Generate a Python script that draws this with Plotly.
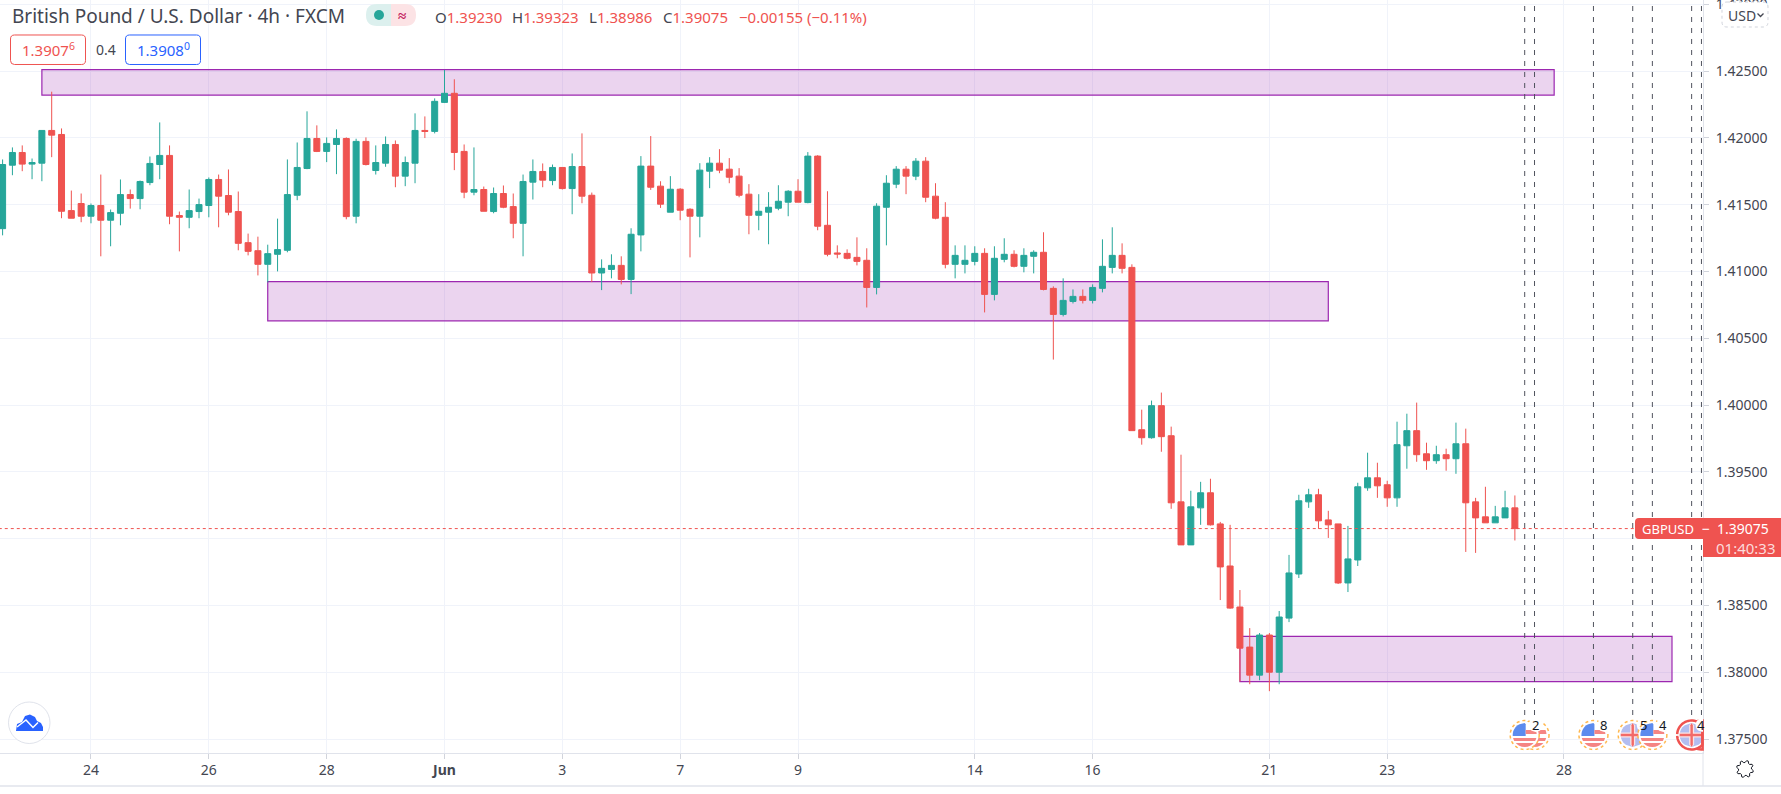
import numpy as np
import plotly.graph_objects as go

W, H = 1781, 794
PLOT_R, PLOT_B = 1703, 752.5
RED, GREEN, BLUE, PURPLE = "#ef5350", "#26a69a", "#2962ff", "#9c27b0"
GRID = "#f0f3fa"
TEXT = "#434651"
FONT = "Noto Sans"

# 4h bars
opens = [1.41320, 1.41795, 1.41890, 1.41803, 1.41810, 1.42055, 1.42025, 1.41455, 1.41508, 1.41413,
         1.41493, 1.41383, 1.41435, 1.41575, 1.41545, 1.41665, 1.41800, 1.41868, 1.41418, 1.41405,
         1.41448, 1.41493, 1.41688, 1.41568, 1.41448, 1.41215, 1.41155, 1.41053, 1.41128, 1.41158,
         1.41570, 1.41770, 1.41995, 1.41898, 1.41950, 1.41995, 1.41413, 1.41973, 1.41755, 1.41810,
         1.41950, 1.41713, 1.41810, 1.42055, 1.42048, 1.42265, 1.42333, 1.41898, 1.41593, 1.41613,
         1.41448, 1.41583, 1.41485, 1.41360, 1.41668, 1.41748, 1.41680, 1.41778, 1.41620, 1.41785,
         1.41570, 1.40988, 1.41015, 1.41045, 1.40940, 1.41273, 1.41788, 1.41638, 1.41443, 1.41615,
         1.41465, 1.41413, 1.41750, 1.41810, 1.41765, 1.41713, 1.41578, 1.41420, 1.41443, 1.41473,
         1.41518, 1.41600, 1.41515, 1.41863, 1.41345, 1.41138, 1.41135, 1.41105, 1.41083, 1.40880,
         1.41480, 1.41653, 1.41765, 1.41713, 1.41825, 1.41563, 1.41405, 1.41053, 1.41053, 1.41075,
         1.41135, 1.40828, 1.41090, 1.41128, 1.41038, 1.41113, 1.41143, 1.40873, 1.40678, 1.40775,
         1.40813, 1.40783, 1.40873, 1.41030, 1.41120, 1.41030, 1.39815, 1.39755, 1.39995, 1.39770,
         1.39275, 1.38953, 1.39230, 1.39343, 1.39110, 1.38795, 1.38488, 1.38188, 1.37978, 1.38278,
         1.38000, 1.38405, 1.38735, 1.39275, 1.39328, 1.39140, 1.39110, 1.38668, 1.38840, 1.39380,
         1.39455, 1.39403, 1.39305, 1.39695, 1.39808, 1.39635, 1.39583, 1.39628, 1.39598, 1.39710,
         1.39275, 1.39163, 1.39118, 1.39155, 1.39230]
highs = [1.41838, 1.41928, 1.41943, 1.41845, 1.42055, 1.42345, 1.42070, 1.41605, 1.41583, 1.41508,
         1.41725, 1.41463, 1.41688, 1.41613, 1.41680, 1.41860, 1.42115, 1.41943, 1.41448, 1.41613,
         1.41545, 1.41703, 1.41725, 1.41763, 1.41598, 1.41283, 1.41260, 1.41200, 1.41395, 1.41838,
         1.41965, 1.42198, 1.42093, 1.42003, 1.42063, 1.42003, 1.41993, 1.42003, 1.41943, 1.42010,
         1.41980, 1.41860, 1.42183, 1.42160, 1.42295, 1.42508, 1.42438, 1.41950, 1.41928, 1.41635,
         1.41628, 1.41643, 1.41583, 1.41725, 1.41838, 1.41808, 1.41800, 1.41780, 1.41883, 1.42033,
         1.41590, 1.41090, 1.41128, 1.41113, 1.41323, 1.41863, 1.42013, 1.41675, 1.41713, 1.41623,
         1.41473, 1.41810, 1.41855, 1.41915, 1.41848, 1.41773, 1.41653, 1.41578, 1.41593, 1.41645,
         1.41608, 1.41690, 1.41893, 1.41870, 1.41600, 1.41195, 1.41165, 1.41255, 1.41173, 1.41510,
         1.41720, 1.41788, 1.41788, 1.41848, 1.41855, 1.41660, 1.41518, 1.41195, 1.41195, 1.41188,
         1.41173, 1.41188, 1.41248, 1.41158, 1.41173, 1.41158, 1.41293, 1.40888, 1.40948, 1.40865,
         1.40865, 1.40903, 1.41240, 1.41330, 1.41210, 1.41053, 1.39965, 1.40033, 1.40093, 1.39838,
         1.39628, 1.39358, 1.39425, 1.39448, 1.39125, 1.39103, 1.38615, 1.38330, 1.38293, 1.38293,
         1.38458, 1.38878, 1.39328, 1.39373, 1.39373, 1.39208, 1.39110, 1.39095, 1.39418, 1.39643,
         1.39568, 1.39433, 1.39875, 1.39935, 1.40018, 1.39718, 1.39695, 1.39673, 1.39868, 1.39823,
         1.39305, 1.39388, 1.39245, 1.39358, 1.39323]
lows = [1.41270, 1.41720, 1.41750, 1.41690, 1.41675, 1.41855, 1.41398, 1.41398, 1.41368, 1.41360,
        1.41113, 1.41188, 1.41345, 1.41470, 1.41465, 1.41645, 1.41690, 1.41353, 1.41150, 1.41323,
        1.41398, 1.41405, 1.41330, 1.41420, 1.41158, 1.41120, 1.40970, 1.40918, 1.41000, 1.41143,
        1.41533, 1.41765, 1.41893, 1.41818, 1.41728, 1.41390, 1.41360, 1.41793, 1.41725, 1.41783,
        1.41630, 1.41638, 1.41660, 1.41998, 1.42033, 1.42260, 1.41758, 1.41548, 1.41570, 1.41450,
        1.41435, 1.41473, 1.41248, 1.41113, 1.41538, 1.41630, 1.41645, 1.41613, 1.41428, 1.41510,
        1.40920, 1.40860, 1.40948, 1.40903, 1.40830, 1.41150, 1.41610, 1.41475, 1.41443, 1.41383,
        1.41105, 1.41255, 1.41623, 1.41735, 1.41660, 1.41555, 1.41278, 1.41308, 1.41203, 1.41458,
        1.41413, 1.41518, 1.41510, 1.41308, 1.41113, 1.41098, 1.41090, 1.41045, 1.40730, 1.40828,
        1.41195, 1.41623, 1.41578, 1.41683, 1.41518, 1.41390, 1.41023, 1.40948, 1.40985, 1.41045,
        1.40693, 1.40783, 1.41068, 1.41030, 1.40993, 1.40985, 1.40858, 1.40340, 1.40663, 1.40760,
        1.40760, 1.40760, 1.40843, 1.40985, 1.40985, 1.39808, 1.39703, 1.39748, 1.39650, 1.39223,
        1.38953, 1.38953, 1.39103, 1.39098, 1.38540, 1.38475, 1.37930, 1.37910, 1.37940, 1.37858,
        1.37910, 1.38375, 1.38705, 1.39230, 1.39073, 1.39005, 1.38660, 1.38600, 1.38795, 1.39358,
        1.39305, 1.39238, 1.39238, 1.39523, 1.39575, 1.39515, 1.39560, 1.39508, 1.39485, 1.38900,
        1.38893, 1.39118, 1.39118, 1.39155, 1.38986]
closes = [1.41800, 1.41890, 1.41803, 1.41815, 1.42055, 1.42020, 1.41450, 1.41398, 1.41413, 1.41493,
          1.41383, 1.41440, 1.41575, 1.41545, 1.41673, 1.41808, 1.41868, 1.41413, 1.41405, 1.41455,
          1.41500, 1.41688, 1.41563, 1.41443, 1.41210, 1.41150, 1.41053, 1.41133, 1.41163, 1.41575,
          1.41778, 1.41995, 1.41898, 1.41958, 1.41995, 1.41410, 1.41973, 1.41800, 1.41815, 1.41950,
          1.41713, 1.41815, 1.42055, 1.42048, 1.42273, 1.42333, 1.41890, 1.41593, 1.41613, 1.41450,
          1.41583, 1.41480, 1.41360, 1.41673, 1.41748, 1.41683, 1.41778, 1.41620, 1.41785, 1.41563,
          1.40988, 1.41023, 1.41045, 1.40940, 1.41278, 1.41788, 1.41630, 1.41503, 1.41615, 1.41458,
          1.41413, 1.41758, 1.41810, 1.41758, 1.41705, 1.41570, 1.41420, 1.41450, 1.41480, 1.41525,
          1.41600, 1.41518, 1.41863, 1.41338, 1.41128, 1.41130, 1.41098, 1.41075, 1.40880, 1.41488,
          1.41660, 1.41765, 1.41713, 1.41825, 1.41555, 1.41398, 1.41053, 1.41120, 1.41083, 1.41135,
          1.40828, 1.41098, 1.41128, 1.41038, 1.41120, 1.41143, 1.40865, 1.40678, 1.40783, 1.40813,
          1.40783, 1.40880, 1.41038, 1.41120, 1.41023, 1.39808, 1.39755, 1.39995, 1.39763, 1.39268,
          1.38953, 1.39238, 1.39343, 1.39103, 1.38788, 1.38480, 1.38180, 1.37978, 1.38278, 1.38000,
          1.38413, 1.38743, 1.39283, 1.39328, 1.39133, 1.39103, 1.38668, 1.38848, 1.39388, 1.39455,
          1.39395, 1.39305, 1.39703, 1.39808, 1.39628, 1.39583, 1.39628, 1.39598, 1.39710, 1.39268,
          1.39155, 1.39118, 1.39163, 1.39230, 1.39075]
bars = list(range(len(opens)))

date_bars = [9, 21, 33, 45, 57, 69, 81, 99, 111, 129, 141, 159]
date_labels = ["24", "26", "28", "<b>Jun</b>", "3", "7", "9", "14", "16", "21", "23", "28"]
price_ticks = [1.375, 1.38, 1.385, 1.39, 1.395, 1.40, 1.405, 1.41, 1.415, 1.42, 1.425, 1.43]
# 1.39000 sits under the last price tag, so it has no label of its own
price_labels = ["1.37500", "1.38000", "1.38500", "", "1.39500", "1.40000", "1.40500", "1.41000",
                "1.41500", "1.42000", "1.42500", "1.43000"]

# zones drawn on the chart: bar from, bar to, price top, price bottom
zone_from = [4, 27, 126]
zone_to = [158, 135, 170]
zone_top = [1.42510, 1.40923, 1.38268]
zone_bottom = [1.42320, 1.40630, 1.37930]

event_bars = [155, 156, 162, 166, 168, 172, 173]
last_price = 1.39075

BAR_X0, BAR_STEP = 2.6, 9.82


def bar_px(i):
    return BAR_X0 + BAR_STEP * i


def px(x):
    return x / W


def py(y):
    return 1 - y / H


def poly_path(pts, close=True):
    s = "M" + " L".join(f"{px(x):.5f},{py(y):.5f}" for x, y in pts)
    return s + (" Z" if close else "")


def round_rect(x0, y0, x1, y1, r, left=True, right=True):
    rl = r if left else 0
    rr = r if right else 0
    return (f"M{px(x0+rl):.5f},{py(y0):.5f} L{px(x1-rr):.5f},{py(y0):.5f} "
            f"Q{px(x1):.5f},{py(y0):.5f} {px(x1):.5f},{py(y0+rr):.5f} "
            f"L{px(x1):.5f},{py(y1-rr):.5f} Q{px(x1):.5f},{py(y1):.5f} {px(x1-rr):.5f},{py(y1):.5f} "
            f"L{px(x0+rl):.5f},{py(y1):.5f} Q{px(x0):.5f},{py(y1):.5f} {px(x0):.5f},{py(y1-rl):.5f} "
            f"L{px(x0):.5f},{py(y0+rl):.5f} Q{px(x0):.5f},{py(y0):.5f} {px(x0+rl):.5f},{py(y0):.5f} Z")


def deco(path, fill="rgba(0,0,0,0)", line=None, width=1, dash="solid"):
    return dict(type="path", xref="paper", yref="paper", path=path, fillcolor=fill, layer="above",
                line=dict(color=line or "rgba(0,0,0,0)", width=width if line else 0, dash=dash))


def band(cx, cy, r, y0, y1, xmin=-1e4, xmax=1e4):
    """disc clipped to a box, and to the right edge of the plot"""
    ys = np.linspace(max(y0, cy - r), min(y1, cy + r), 12)
    half = np.sqrt(np.maximum(r ** 2 - (ys - cy) ** 2, 0))
    right = np.minimum(np.minimum(cx + half, xmax), PLOT_R)
    left = np.minimum(np.maximum(cx - half, xmin), PLOT_R)
    pts = list(zip(right, ys)) + list(zip(left[::-1], ys[::-1]))
    return poly_path(pts)


def arc(cx, cy, r):
    a = np.linspace(0, 2 * np.pi, 60)
    pts = [(cx + r * np.cos(t), cy + r * np.sin(t)) for t in a if cx + r * np.cos(t) < PLOT_R]
    if cx + r >= PLOT_R:
        # start the open arc from the clipped side
        pts = [p for p in pts if p[1] >= cy][::-1] + [p for p in pts if p[1] < cy][::-1]
    return poly_path(pts, close=False)


def flag_icon(cx, kind, number=None, ring="#ffb74d", ring_w=1.5, ring_dash="dot"):
    cy = 735
    out = [deco(band(cx, cy, 14, cy - 14, cy + 14), fill="white")]
    if kind == "us":
        out.append(deco(band(cx, cy, 12, cy - 12, cy + 1, xmax=cx + 1), fill="#5c8bee"))
        out.append(deco(band(cx, cy, 12, cy - 5, cy - 1, xmin=cx + 1), fill="#f58583"))
        out.append(deco(band(cx, cy, 12, cy + 3, cy + 6), fill="#f58583"))
        out.append(deco(band(cx, cy, 12, cy + 8, cy + 12), fill="#f58583"))
    else:
        out.append(deco(band(cx, cy, 12, cy - 12, cy + 12), fill="#b3bdf0"))
        out.append(deco(band(cx, cy, 12, cy - 2.5, cy + 2.5), fill="#fde3e3"))
        out.append(deco(band(cx, cy, 12, cy - 12, cy + 12, xmin=cx - 2.5, xmax=cx + 2.5), fill="#fde3e3"))
        out.append(deco(band(cx, cy, 12, cy - 1.2, cy + 1.2), fill="#f26a68"))
        out.append(deco(band(cx, cy, 12, cy - 12, cy + 12, xmin=cx - 1.2, xmax=cx + 1.2), fill="#f26a68"))
    out.append(deco(arc(cx, cy, 14.5), line=ring, width=ring_w, dash=ring_dash))
    if number:
        nx = cx + 11
        out.append(deco(band(nx, cy - 10, 7, cy - 17, cy - 3), fill="white"))
    return out


def note(x, y, text, size=14, color=TEXT, anchor="left"):
    # annotations pad their text by 2px
    if anchor == "left":
        x -= 2
    return dict(xref="paper", yref="paper", x=px(x), y=py(y), text=text, showarrow=False,
                xanchor=anchor, yanchor="middle", font=dict(family=FONT, size=size, color=color))


fig = go.Figure(go.Candlestick(
    x=bars, open=opens, high=highs, low=lows, close=closes,
    whiskerwidth=0,
    increasing=dict(line=dict(color=GREEN, width=1), fillcolor=GREEN),
    decreasing=dict(line=dict(color=RED, width=1), fillcolor=RED),
    showlegend=False, hoverinfo="skip",
))

shapes = []
for a, b, top, bot in zip(zone_from, zone_to, zone_top, zone_bottom):
    shapes.append(dict(type="rect", xref="x", yref="y", x0=a, x1=b, y0=bot, y1=top, layer="between",
                       fillcolor="rgba(156,39,176,0.2)", line=dict(color=PURPLE, width=1.2)))

# current price line
shapes.append(dict(type="line", xref="x", yref="y", x0=-1, x1=173.15, y0=last_price, y1=last_price,
                   layer="above", line=dict(color=RED, width=1, dash="dot")))

# event markers
for b in event_bars:
    shapes.append(dict(type="line", xref="x", yref="paper", x0=b, x1=b, y0=py(715), y1=py(2), layer="above",
                       line=dict(color="#50535e", width=1, dash="5px,6px")))

annotations = []
icons = [(156, "us", None), (155, "us", "2"), (162, "us", "8"), (166, "uk", "5"), (168, "us", "4")]
for b, kind, num in icons:
    shapes += flag_icon(bar_px(b), kind, num)
    if num:
        annotations.append(note(bar_px(b) + 10.5, 725, num, size=13, color="#131722", anchor="center"))
for b in [173, 172]:
    shapes += flag_icon(bar_px(b), "uk", "4" if b == 172 else None, ring=RED, ring_w=2.5, ring_dash="solid")
annotations.append(note(bar_px(172) + 9.5, 725, "4", size=13, color="#131722", anchor="center"))

# frame of the time and price scales
shapes.append(dict(type="line", xref="paper", yref="paper", x0=0, x1=1, y0=py(786), y1=py(786),
                   layer="above", line=dict(color="#e0e3eb", width=1.5)))
shapes.append(dict(type="line", xref="paper", yref="paper", x0=px(PLOT_R), x1=px(PLOT_R), y0=py(752), y1=py(786),
                   layer="above", line=dict(color="#e0e3eb", width=1)))

# last price tag
tag = (f"M{px(1639):.5f},{py(518):.5f} L{px(1781):.5f},{py(518):.5f} L{px(1781):.5f},{py(557):.5f} "
       f"L{px(1703):.5f},{py(557):.5f} L{px(1703):.5f},{py(539):.5f} L{px(1639):.5f},{py(539):.5f} "
       f"Q{px(1635):.5f},{py(539):.5f} {px(1635):.5f},{py(535):.5f} L{px(1635):.5f},{py(522):.5f} "
       f"Q{px(1635):.5f},{py(518):.5f} {px(1639):.5f},{py(518):.5f} Z")
shapes.append(deco(tag, fill=RED))
annotations.append(note(1641.5, 528.5, "GBPUSD", size=13, color="white"))
annotations.append(note(1706, 528.5, "−", size=14, color="white", anchor="center"))
annotations.append(note(1716.5, 528.5, "1.39075", size=14, color="white"))
annotations.append(note(1716, 547.5, "01:40:33", size=15, color="#fbdcdc"))

# currency button
shapes.append(deco(round_rect(1722, 2, 1768, 27, 5), fill="white", line="#d1d4dc", width=1, dash="dot"))
annotations.append(note(1728, 15, "USD", size=14, color=TEXT))
shapes.append(deco(poly_path([(1757.5, 13.5), (1760.5, 16.5), (1763.5, 13.5)], close=False), line=TEXT, width=1.3))

# header
annotations.append(note(11.5, 16, "British Pound / U.S. Dollar · 4h · FXCM", size=19, color=TEXT))
shapes.append(deco(round_rect(366, 4, 391, 26, 11, right=False), fill="#dcf0ee"))
shapes.append(deco(round_rect(391, 4, 416, 26, 11, left=False), fill="#fce3e5"))
shapes.append(dict(type="circle", xref="paper", yref="paper", x0=px(374), x1=px(384), y0=py(20), y1=py(10),
                   layer="above", fillcolor=GREEN, line=dict(width=0)))
annotations.append(note(402, 15, "<b>≈</b>", size=15, color="#c2185b", anchor="center"))


def ohlc(letter, value):
    return f'{letter}<span style="color:{RED}">{value}</span>'


annotations.append(note(435, 17, ohlc("O", "1.39230"), size=15))
annotations.append(note(512, 17, ohlc("H", "1.39323"), size=15))
annotations.append(note(589, 17, ohlc("L", "1.38986"), size=15))
annotations.append(note(663, 17, ohlc("C", "1.39075"), size=15))
annotations.append(note(739, 17, "−0.00155 (−0.11%)", size=15, color=RED))

# bid and ask boxes
shapes.append(deco(round_rect(10.5, 35, 85.5, 64.5, 4), fill="white", line=RED, width=1))
shapes.append(deco(round_rect(125.5, 35, 200.5, 64.5, 4), fill="white", line=BLUE, width=1))
annotations.append(note(48, 50, "1.3907<sup>6</sup>", size=15, color=RED, anchor="center"))
annotations.append(note(105.5, 50, "0.4", size=14, color=TEXT, anchor="center"))
annotations.append(note(163, 50, "1.3908<sup>0</sup>", size=15, color=BLUE, anchor="center"))

# logo, bottom left
shapes.append(dict(type="circle", xref="paper", yref="paper", x0=px(8.5), x1=px(50), y0=py(743.5), y1=py(702),
                   layer="above", fillcolor="white", line=dict(color="#e0e3eb", width=1)))
cloud = [(16, 731), (17, 724), (22, 722), (25, 716), (30, 714.5), (35, 717), (37, 721), (41, 723), (43, 727), (43, 731)]
shapes.append(deco(poly_path(cloud), fill=BLUE))
shapes.append(deco(poly_path([(17, 727), (26, 720), (33, 727.5), (38, 722.5)], close=False), line="white", width=1.5))

# settings gear
angles = np.linspace(0, 2 * np.pi, 33)
radii = np.where(np.arange(33) % 4 < 2, 8.5, 6.5)
gear = [(1745 + r * np.cos(t + 0.2), 769 + r * np.sin(t + 0.2)) for r, t in zip(radii, angles)]
shapes.append(deco(poly_path(gear), line="#131722", width=1))

fig.update_layout(
    width=W, height=H,
    margin=dict(l=0, r=0, t=0, b=0, autoexpand=False),
    paper_bgcolor="white", plot_bgcolor="white",
    showlegend=False, boxgap=0.39, boxgroupgap=0,
    shapes=shapes, annotations=annotations,
    font=dict(family=FONT, size=14, color=TEXT),
    xaxis=dict(domain=[0, PLOT_R / W], range=[-BAR_X0 / BAR_STEP, (PLOT_R - BAR_X0) / BAR_STEP],
               tickmode="array", tickvals=date_bars, ticktext=date_labels,
               showgrid=True, gridcolor=GRID, gridwidth=1, zeroline=False,
               showline=True, linecolor="#e0e3eb", linewidth=1,
               ticks="outside", ticklen=5, tickcolor="#d1d4dc", rangeslider=dict(visible=False),
               tickfont=dict(family=FONT, size=14, color=TEXT)),
    yaxis=dict(domain=[1 - PLOT_B / H, 1], range=[1.37399, 1.430314], side="right",
               tickmode="array", tickvals=price_ticks, ticktext=price_labels,
               showgrid=True, gridcolor=GRID, gridwidth=1, zeroline=False,
               showline=True, linecolor="#e0e3eb", linewidth=1,
               ticks="outside", ticklen=5, tickcolor="#d1d4dc", ticklabelstandoff=4,
               ticklabeloverflow="allow", automargin=False,
               tickfont=dict(family=FONT, size=14, color=TEXT)),
)

fig.write_html("out.html", config=dict(displayModeBar=False),
               post_script="document.body.style.margin='0';")
